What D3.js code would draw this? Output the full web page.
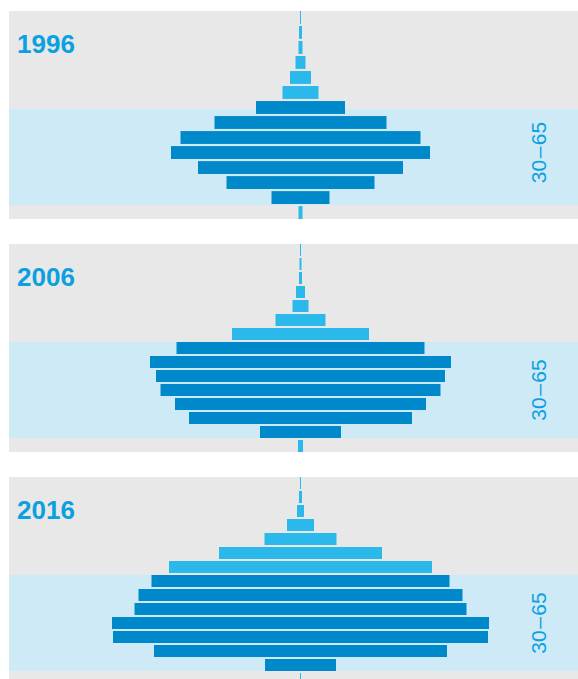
<!DOCTYPE html>
<html>
<head>
<meta charset="utf-8">
<script src="https://cdn.jsdelivr.net/npm/d3@7"></script>
<style>
  html, body { margin: 0; padding: 0; background: #fff; }
  svg { display: block; }
</style>
</head>
<body>
<div id="chart"></div>
<script>
// age groups, oldest on top
const ageGroups = ["95+", "90–94", "85–89", "80–84", "75–79", "70–74", "65–69",
  "60–64", "55–59", "50–54", "45–49", "40–44", "35–39", "30–34", "25–29"];
const ageGroups1996 = ["90+", "85–89", "80–84", "75–79", "70–74", "65–69",
  "60–64", "55–59", "50–54", "45–49", "40–44", "35–39", "30–34", "25–29"];
// groups inside the 30–65 band
const workingAges = ["60–64", "55–59", "50–54", "45–49", "40–44", "35–39", "30–34"];

const years = ["1996", "2006", "2016"];
const bandLabel = ["30", "–", "65"];

// bar sizes (same unit for all panels)
const values1996 = [1, 3, 4, 10, 21, 36, 89, 172, 240, 259, 205, 148, 58, 4];
const values2006 = [1, 2, 3, 9, 16, 50, 137, 248, 301, 289, 280, 251, 223, 81, 5];
const values2016 = [1, 3, 7, 27, 72, 163, 263, 298, 324, 332, 377, 375, 293, 71, 1];

const panelGroups = [ageGroups1996, ageGroups, ageGroups];
const panelValues = [values1996, values2006, values2016];

var DrawPyramids = function () {
  this.width = 578;
  this.height = 679;
  this.panelLeft = 9;
  this.panelTop = 11;
  this.panelHeight = 208;
  this.panelStep = 233;
  this.cx = 300.5;
  this.colors = { bg: "#e8e8e8", band: "#cfeaf7", dark: "#0089ca", light: "#2bb8ea", text: "#0ba0e0" };
}

DrawPyramids.prototype.drawInit = function () {
  this.svg = d3.select("#chart")
    .append("svg")
    .attr("width", this.width)
    .attr("height", this.height);

  this.x = d3.scaleLinear()
    .domain([0, 380])
    .range([0, 380]);
}

DrawPyramids.prototype.drawPanel = function (i) {
  const c = this.colors;
  const top = this.panelTop + i * this.panelStep;
  const groups = panelGroups[i];
  const rows = groups.map((g, k) => ({ group: g, value: panelValues[i][k] }));

  const y = d3.scaleBand()
    .domain(groups)
    .range([top, top + this.panelHeight])
    .paddingInner(2 / 14);

  // band position always taken from the full age scale
  const yRef = d3.scaleBand()
    .domain(ageGroups)
    .range([top, top + this.panelHeight])
    .paddingInner(2 / 14);

  const g = this.svg.append("g").attr("class", "panel");

  g.append("rect")
    .attr("x", this.panelLeft)
    .attr("y", top)
    .attr("width", this.width - this.panelLeft)
    .attr("height", this.panelHeight)
    .attr("fill", c.bg);

  const bandTop = yRef(workingAges[0]);
  const bandBottom = yRef(workingAges[workingAges.length - 1]) + yRef.bandwidth();
  g.append("rect")
    .attr("x", this.panelLeft)
    .attr("y", bandTop)
    .attr("width", this.width - this.panelLeft)
    .attr("height", bandBottom - bandTop)
    .attr("fill", c.band);

  g.selectAll(".bar")
    .data(rows)
    .join("rect")
    .attr("class", "bar")
    .attr("x", d => this.cx - this.x(d.value) / 2)
    .attr("y", d => y(d.group))
    .attr("width", d => this.x(d.value))
    .attr("height", y.bandwidth())
    .attr("fill", d => workingAges.includes(d.group) ? c.dark : c.light);

  g.append("text")
    .attr("x", 17)
    .attr("y", top + 41.5)
    .attr("fill", c.text)
    .style("font", "bold 26px 'Liberation Sans', Arial, sans-serif")
    .text(years[i]);

  // label centred on the dark bars, dash a bit spaced out
  const darkTop = y(workingAges[0]);
  const darkBottom = y(workingAges[workingAges.length - 1]) + y.bandwidth();
  g.append("text")
    .attr("transform", `translate(545.5,${(darkTop + darkBottom) / 2}) rotate(-90)`)
    .attr("text-anchor", "middle")
    .attr("fill", c.text)
    .style("font", "21px 'Liberation Sans', Arial, sans-serif")
    .selectAll("tspan")
    .data(bandLabel)
    .join("tspan")
    .attr("dx", (d, k) => k === 0 ? 0 : 1.5)
    .text(d => d);
}

const chart = new DrawPyramids();
chart.drawInit();
years.forEach((yr, i) => chart.drawPanel(i));
</script>
</body>
</html>
